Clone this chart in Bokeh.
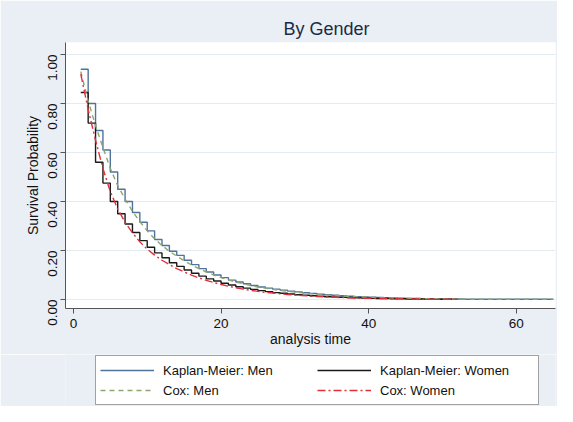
from bokeh.plotting import figure
from bokeh.models import Legend, LegendItem, Range1d, FixedTicker
from bokeh.layouts import column
from bokeh.embed import file_html
from bokeh.resources import INLINE
from math import pi

# ---- data ----
t_men = list(range(1, 66))
km_men = [0.94, 0.80, 0.69, 0.61, 0.52, 0.45, 0.40, 0.355, 0.315, 0.28,
          0.245, 0.22, 0.197, 0.18, 0.16, 0.142, 0.126, 0.112, 0.10, 0.089,
          0.079, 0.071, 0.064, 0.057, 0.051, 0.046, 0.042, 0.038, 0.034, 0.031,
          0.027, 0.024, 0.021, 0.019, 0.017, 0.015, 0.013, 0.011, 0.010, 0.009,
          0.008, 0.007, 0.006, 0.005, 0.004, 0.004, 0.003, 0.003, 0.002, 0.002,
          0.002, 0.002, 0.001, 0.001, 0.001, 0.001, 0.001, 0.001, 0.001, 0.001,
          0.001, 0.001, 0.001, 0.001, 0.001]
cox_men = [0.93, 0.81, 0.71, 0.62, 0.535, 0.465, 0.41, 0.36, 0.318, 0.28,
           0.248, 0.22, 0.197, 0.177, 0.158, 0.141, 0.126, 0.112, 0.10, 0.089,
           0.080, 0.071, 0.064, 0.057, 0.051, 0.046, 0.041, 0.037, 0.033, 0.030,
           0.027, 0.024, 0.021, 0.019, 0.017, 0.015, 0.013, 0.012, 0.010, 0.009,
           0.008, 0.007, 0.006, 0.005, 0.005, 0.004, 0.004, 0.003, 0.003, 0.002,
           0.002, 0.002, 0.002, 0.001, 0.001, 0.001, 0.001, 0.001, 0.001, 0.001,
           0.001, 0.001, 0.001, 0.001, 0.001]
t_women = list(range(1, 53))
km_women = [0.845, 0.72, 0.56, 0.475, 0.40, 0.35, 0.308, 0.273, 0.24, 0.213,
            0.19, 0.17, 0.15, 0.135, 0.12, 0.107, 0.095, 0.084, 0.075, 0.066,
            0.059, 0.052, 0.046, 0.041, 0.036, 0.032, 0.028, 0.025, 0.022, 0.019,
            0.017, 0.015, 0.013, 0.011, 0.010, 0.009, 0.008, 0.007, 0.006, 0.005,
            0.004, 0.004, 0.003, 0.003, 0.002, 0.002, 0.002, 0.001, 0.001, 0.001,
            0.001, 0.001]
cox_women = [0.92, 0.775, 0.65, 0.535, 0.44, 0.37, 0.315, 0.272, 0.235, 0.205,
             0.181, 0.160, 0.142, 0.126, 0.112, 0.099, 0.088, 0.078, 0.069, 0.061,
             0.054, 0.048, 0.042, 0.037, 0.033, 0.029, 0.026, 0.023, 0.020, 0.018,
             0.016, 0.014, 0.012, 0.011, 0.010, 0.008, 0.007, 0.006, 0.005, 0.005,
             0.004, 0.004, 0.003, 0.003, 0.002, 0.002, 0.002, 0.001, 0.001, 0.001,
             0.001, 0.001]
x_ticks = [0, 20, 40, 60]
y_ticks = [0.0, 0.2, 0.4, 0.6, 0.8, 1.0]
y_tick_labels = {0.0: "0.00", 0.2: "0.20", 0.4: "0.40", 0.6: "0.60", 0.8: "0.80", 1.0: "1.00"}
labels = ["Kaplan-Meier: Men", "Kaplan-Meier: Women", "Cox: Men", "Cox: Women"]

FONT = "Liberation Sans"
BG = "#e9eff4"
C_KMM, C_KMW, C_COXM, C_COXW = "#4f739a", "#1a1a1a", "#8ea66e", "#e0303c"
D_COXM, D_COXW = "5 4", "8 3 2 3"

p = figure(width=557, height=354, output_backend="svg", toolbar_location=None,
           x_range=Range1d(-1.07, 65.3), y_range=Range1d(-0.037, 1.049),
           min_border_left=65, min_border_right=2, min_border_top=42, min_border_bottom=46)
p.border_fill_color = BG
p.background_fill_color = "white"
p.outline_line_color = None

p.title.text = "By Gender"
p.title.text_font = FONT
p.title.text_font_size = "18px"
p.title.text_font_style = "normal"
p.title.text_color = "#1c2a48"
p.title.align = "left"
p.title.offset = 218
p.title.standoff = 8

for ax in (p.xaxis[0], p.yaxis[0]):
    ax.axis_line_color = "#555555"
    ax.major_tick_line_color = "#555555"
    ax.major_tick_out = 5
    ax.major_tick_in = 0
    ax.minor_tick_line_color = None
    ax.major_label_text_font = FONT
    ax.major_label_text_font_size = "13.5px"
    ax.major_label_text_color = "#111111"
    ax.axis_label_text_font = FONT
    ax.axis_label_text_font_size = "14px"
    ax.axis_label_text_font_style = "normal"
    ax.axis_label_text_color = "#111111"

p.xaxis.ticker = FixedTicker(ticks=x_ticks)
p.xaxis.axis_label = "analysis time"
p.xaxis.major_label_standoff = 5
p.xaxis.axis_label_standoff = 0

p.yaxis.ticker = FixedTicker(ticks=y_ticks)
p.yaxis.major_label_overrides = y_tick_labels
p.yaxis.major_label_orientation = pi / 2
p.yaxis.axis_label = "Survival Probability"
p.yaxis.major_label_standoff = 8
p.yaxis.axis_label_standoff = 0

p.xgrid.grid_line_color = None
p.ygrid.grid_line_color = "#e3eaf0"
p.ygrid.grid_line_width = 1

p.step(t_men, km_men, mode="after", line_color=C_KMM, line_width=1.4)
p.step(t_women, km_women, mode="after", line_color=C_KMW, line_width=1.4)
p.line(t_men, cox_men, line_color=C_COXM, line_width=1.4, line_dash=D_COXM)
p.line(t_women, cox_women, line_color=C_COXW, line_width=1.4, line_dash=D_COXW)

# ---- legend strip below the plot (series drawn off-range, only their legend shows) ----
lg = figure(width=557, height=52, output_backend="svg", toolbar_location=None,
            x_range=Range1d(0, 1), y_range=Range1d(5, 6),
            min_border_left=65, min_border_right=2, min_border_top=0, min_border_bottom=0,
            x_axis_location=None, y_axis_location=None)
lg.border_fill_color = BG
lg.background_fill_color = BG
lg.outline_line_color = None
lg.grid.grid_line_color = None

g_kmm = lg.line(t_men, km_men, line_color=C_KMM, line_width=1.4)
g_kmw = lg.line(t_women, km_women, line_color=C_KMW, line_width=1.4)
g_coxm = lg.line(t_men, cox_men, line_color=C_COXM, line_width=1.4, line_dash=D_COXM)
g_coxw = lg.line(t_women, cox_women, line_color=C_COXW, line_width=1.4, line_dash=D_COXW)

legend = Legend(items=[LegendItem(label=labels[0], renderers=[g_kmm]),
                       LegendItem(label=labels[2], renderers=[g_coxm]),
                       LegendItem(label=labels[1], renderers=[g_kmw]),
                       LegendItem(label=labels[3], renderers=[g_coxw])],
                orientation="vertical", nrows=2,
                location=(30, 1))
legend.label_text_font = FONT
legend.label_text_font_size = "13px"
legend.label_text_color = "#111111"
legend.glyph_width = 54
legend.glyph_height = 14
legend.label_standoff = 9
legend.label_width = 154
legend.label_height = 20
legend.spacing = 0
legend.padding = 4
legend.margin = 0
legend.border_line_color = "#444444"
legend.border_line_width = 1
legend.background_fill_color = "white"
legend.background_fill_alpha = 1
lg.add_layout(legend, "center")

layout = column(p, lg, spacing=0)
open("out.html", "w").write(file_html(layout, INLINE))
